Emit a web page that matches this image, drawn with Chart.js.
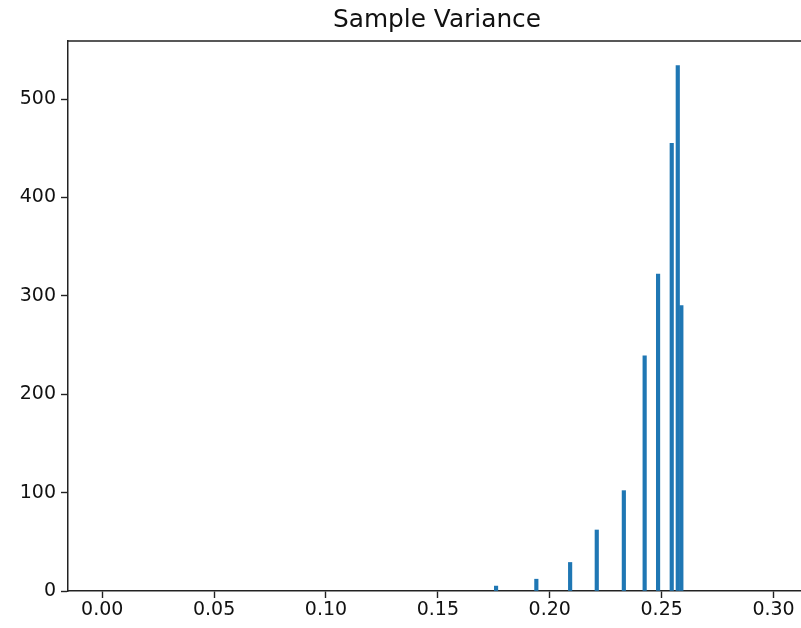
<!DOCTYPE html>
<html>
<head>
<meta charset="utf-8">
<script src="https://cdn.jsdelivr.net/npm/chart.js@4"></script>
<style>
  body { margin: 0; background: #fff; width: 801px; height: 628px; overflow: hidden; }
</style>
</head>
<body>
<canvas id="myChart" width="812" height="628"></canvas>
<script>
// histogram bins (centre of bin) and counts
const binCenters = [0.1760, 0.1940, 0.2091, 0.2210, 0.2331, 0.2424, 0.2484, 0.2545, 0.2572, 0.2588];
const counts = [5, 12, 29, 62, 102, 239, 322, 455, 534, 290];
const xTicks = [0.00, 0.05, 0.10, 0.15, 0.20, 0.25, 0.30];
const yTicks = [0, 100, 200, 300, 400, 500];
const titleText = "Sample Variance";

let points = binCenters.map(function(x, i){
  return {x: x, y: counts[i]}
})

// top frame line, right spine and a title centred over the axes (like matplotlib)
const framePlugin = {
  id: "frame",
  afterDraw(chart) {
    let a = chart.chartArea;
    let c = chart.ctx;
    c.save();
    c.strokeStyle = "#222";
    c.lineWidth = 1.5;
    c.beginPath();
    c.moveTo(a.left, a.top);
    c.lineTo(a.right, a.top);
    c.lineTo(a.right, a.bottom);
    c.stroke();
    c.fillStyle = "#111";
    c.font = "24.8px 'DejaVu Sans'";
    c.textAlign = "center";
    c.textBaseline = "alphabetic";
    c.fillText(titleText, (a.left + a.right) / 2, 27);
    c.restore();
  }
};

const ctx = document.getElementById("myChart");

new Chart(ctx, {
  type: "bar",
  data: {
    datasets: [{
      label: titleText,
      data: points,
      backgroundColor: "#1f77b4",
      borderWidth: 0,
      barThickness: 3.5
    }]
  },
  options: {
    responsive: false,
    animation: false,
    layout: { padding: { left: 0, right: 6, top: 41, bottom: 0 } },
    plugins: {
      legend: { display: false },
      tooltip: { enabled: false },
      title: { display: false }
    },
    scales: {
      x: {
        type: "linear",
        offset: false,
        min: -0.01528,
        max: 0.3145,
        afterBuildTicks: function(axis) {
          axis.ticks = xTicks.map(function(v){ return {value: v} });
        },
        afterFit: function(axis) { axis.height = 37; },
        grid: { offset: false, drawOnChartArea: false, tickLength: 7, tickColor: "#222", tickWidth: 1.4 },
        border: { color: "#222", width: 1.5 },
        ticks: {
          color: "#111",
          padding: 1,
          maxRotation: 0,
          font: { family: "DejaVu Sans", size: 19 },
          callback: function(v) { return v.toFixed(2); }
        }
      },
      y: {
        min: 0,
        max: 559,
        afterBuildTicks: function(axis) {
          axis.ticks = yTicks.map(function(v){ return {value: v} });
        },
        afterFit: function(axis) { axis.width = 68; },
        grid: { drawOnChartArea: false, tickLength: 7, tickColor: "#222", tickWidth: 1.4 },
        border: { color: "#222", width: 1.5 },
        ticks: {
          color: "#111",
          padding: 5,
          font: { family: "DejaVu Sans", size: 19 }
        }
      }
    }
  },
  plugins: [framePlugin]
});
</script>
</body>
</html>
